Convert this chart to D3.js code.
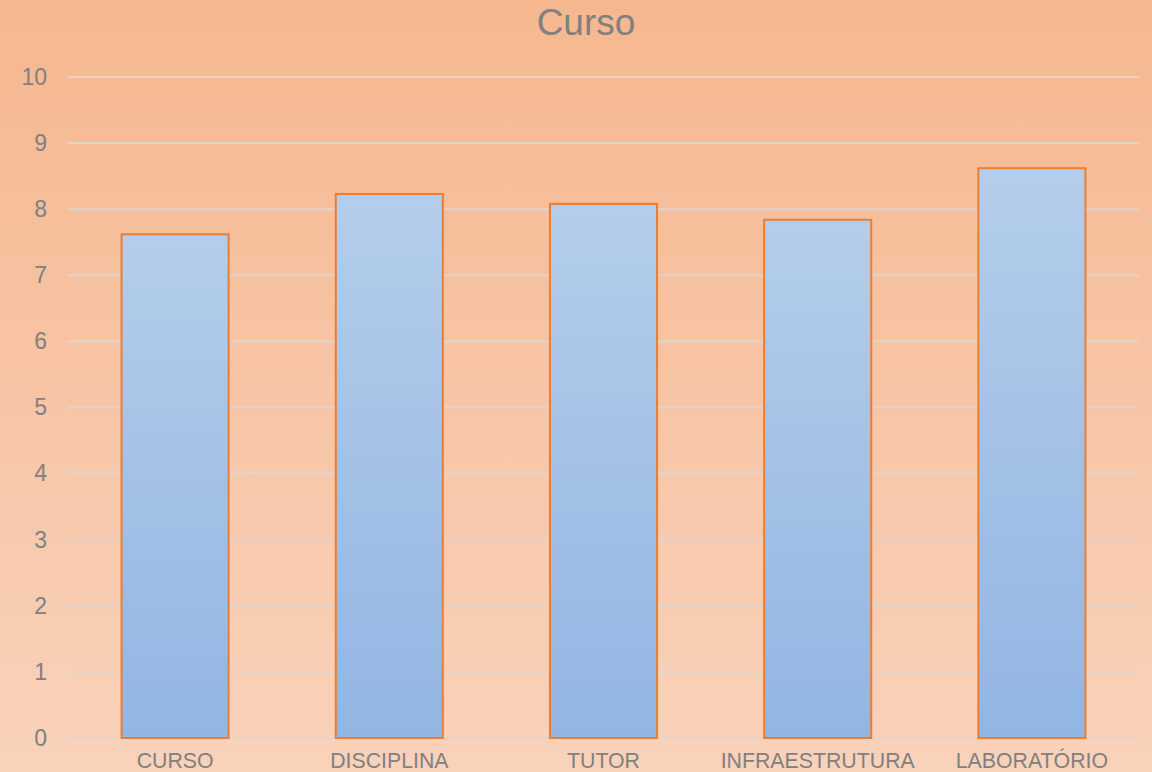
<!DOCTYPE html>
<html>
<head>
<meta charset="utf-8">
<script src="https://cdn.jsdelivr.net/npm/d3@7"></script>
<style>
  html, body { margin: 0; padding: 0; }
  body { width: 1152px; height: 772px; overflow: hidden; }
</style>
</head>
<body>
<div id="chart"></div>
<script>
const categories = ["CURSO", "DISCIPLINA", "TUTOR", "INFRAESTRUTURA", "LABORATÓRIO"];
const values = [7.62, 8.23, 8.08, 7.84, 8.62];
const yTicks = [0, 1, 2, 3, 4, 5, 6, 7, 8, 9, 10];

const width = 1152, height = 772;
const margin = { top: 77, right: 13, bottom: 34, left: 68 };
const font = "'Liberation Sans', Arial, sans-serif";

const svg = d3.select("#chart")
  .append("svg")
  .attr("width", width)
  .attr("height", height);

const defs = svg.append("defs");

const bg = defs.append("linearGradient")
  .attr("id", "bg").attr("x1", 0).attr("y1", 0).attr("x2", 0).attr("y2", 1);
bg.append("stop").attr("offset", "0%").attr("stop-color", "#f5b78f");
bg.append("stop").attr("offset", "100%").attr("stop-color", "#f9d2ba");

const barGrad = defs.append("linearGradient")
  .attr("id", "barGrad").attr("x1", 0).attr("y1", 0).attr("x2", 0).attr("y2", 1);
barGrad.append("stop").attr("offset", "0%").attr("stop-color", "#b4cdea");
barGrad.append("stop").attr("offset", "100%").attr("stop-color", "#92b5e2");

svg.append("rect")
  .attr("width", width)
  .attr("height", height)
  .attr("fill", "url(#bg)");

const x = d3.scaleBand()
  .domain(categories)
  .range([margin.left, width - margin.right])
  .paddingInner(0.5)
  .paddingOuter(0.25);

const y = d3.scaleLinear()
  .domain([0, 10])
  .range([height - margin.bottom, margin.top]);

// gridlines
svg.append("g")
  .selectAll("line")
  .data(yTicks)
  .join("line")
  .attr("x1", margin.left)
  .attr("x2", width - margin.right)
  .attr("y1", d => y(d))
  .attr("y2", d => y(d))
  .attr("stroke", "#e2d3cb")
  .attr("stroke-width", 2);

// y axis labels
const yAxis = svg.append("g")
  .attr("transform", `translate(${margin.left}, 0)`)
  .call(d3.axisLeft(y).tickValues(yTicks).tickSize(0).tickPadding(21).tickFormat(d3.format("d")));
yAxis.select(".domain").remove();
yAxis.selectAll("text")
  .attr("fill", "#808080")
  .style("font-family", font)
  .style("font-size", "23px");

// bars
svg.append("g")
  .selectAll("rect")
  .data(values)
  .join("rect")
  .attr("x", (d, i) => x(categories[i]))
  .attr("y", d => y(d))
  .attr("width", x.bandwidth())
  .attr("height", d => y(0) - y(d))
  .attr("fill", "url(#barGrad)")
  .attr("stroke", "#ed7d31")
  .attr("stroke-width", 2);

// x axis labels
const xAxis = svg.append("g")
  .attr("transform", `translate(0, ${y(0)})`)
  .call(d3.axisBottom(x).tickSize(0).tickPadding(15));
xAxis.select(".domain").remove();
xAxis.selectAll("text")
  .attr("fill", "#808080")
  .style("font-family", font)
  .style("font-size", "21.3px");

// title
svg.append("text")
  .attr("x", width / 2 + 10)
  .attr("y", 35)
  .attr("text-anchor", "middle")
  .attr("fill", "#808080")
  .style("font-family", font)
  .style("font-size", "37px")
  .text("Curso");
</script>
</body>
</html>
